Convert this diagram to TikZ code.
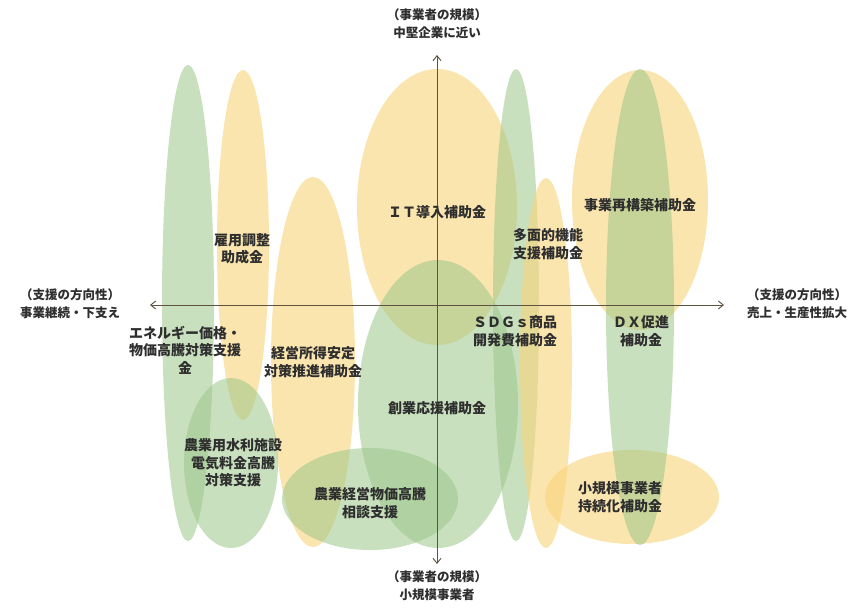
\documentclass[tikz,border=0pt]{standalone}
\usepackage{fontspec}
\setmainfont{Noto Sans CJK JP}
\usetikzlibrary{arrows.meta}
\definecolor{yel}{HTML}{F9D37A}
\definecolor{grn}{HTML}{9CC78A}
\definecolor{axiscol}{HTML}{5E5240}
\definecolor{txt}{HTML}{2E2E2E}
\tikzset{
  yfill/.style={fill=yel,fill opacity=0.6},
  gfill/.style={fill=grn,fill opacity=0.55},
  lab/.style={inner sep=0pt,align=center,text=txt,font=\fontsize{14}{17.5}\selectfont\bfseries},
  axlab/.style={inner sep=0pt,align=center,text=txt,font=\fontsize{12.5}{18}\selectfont\bfseries},
  axis/.style={draw=axiscol,line width=0.9pt,-{Straight Barb[length=5pt,width=8pt]}}
}
\begin{document}
\begin{tikzpicture}[x=1pt,y=-1pt]
\useasboundingbox (0,0) rectangle (867,610);
% ellipses
\fill[gfill] (188,303) ellipse [x radius=26pt, y radius=238pt];
\fill[yfill] (243,245) ellipse [x radius=26pt, y radius=175pt];
\fill[yfill] (313,362) ellipse [x radius=42pt, y radius=185pt];
\fill[yfill] (437,207) ellipse [x radius=80pt, y radius=138pt];
\fill[gfill] (438,404) ellipse [x radius=80pt, y radius=144pt];
\fill[gfill] (516,305) ellipse [x radius=23pt, y radius=236pt];
\fill[yfill] (546,363) ellipse [x radius=26pt, y radius=185pt];
\fill[yfill] (640,200) ellipse [x radius=68pt, y radius=130pt];
\fill[yfill] (632,497) ellipse [x radius=87pt, y radius=47pt];
\fill[gfill] (640,307) ellipse [x radius=34pt, y radius=238pt];
\fill[gfill] (231,463) ellipse [x radius=47pt, y radius=85pt];
\fill[gfill] (370,499) ellipse [x radius=88pt, y radius=51pt];
% axes
\coordinate (top) at (437,55);
\coordinate (bot) at (437,564);
\coordinate (lft) at (150,305);
\coordinate (rgt) at (724,305);
\coordinate (ctr) at (437,305);
\draw[axis] (ctr) -- (top);
\draw[axis] (ctr) -- (bot);
\draw[axis] (ctr) -- (lft);
\draw[axis] (ctr) -- (rgt);
% axis labels
\node[axlab] (tl) at (437,24) {（事業者の規模）\\中堅企業に近い};
\node[axlab] (bl) at (437,586) {（事業者の規模）\\小規模事業者};
\node[axlab] (ll) at (70,304) {（支援の方向性）\\事業継続・下支え};
\node[axlab] (rl) at (797,304) {（支援の方向性）\\売上・生産性拡大};
% labels
\node[lab] (koyo) at (242,249) {雇用調整\\助成金};
\node[lab] (ene) at (185,350) {エネルギー価格・\\物価高騰対策支援\\金};
\node[lab] (keiei) at (313,362) {経営所得安定\\対策推進補助金};
\node[lab] (it) at (437,212) {ＩＴ導入補助金};
\node[lab] (tamen) at (548,244) {多面的機能\\支援補助金};
\node[lab] (saikou) at (640,205) {事業再構築補助金};
\node[lab] (sdgs) at (515,331) {ＳＤＧｓ商品\\開発費補助金};
\node[lab] (dx) at (641,331) {ＤＸ促進\\補助金};
\node[lab] (sogyo) at (437,408) {創業応援補助金};
\node[lab] (suiri) at (233,463) {農業用水利施設\\電気料金高騰\\対策支援};
\node[lab] (bukka) at (370,503) {農業経営物価高騰\\相談支援};
\node[lab] (jizoku) at (620,497) {小規模事業者\\持続化補助金};
\end{tikzpicture}
\end{document}
